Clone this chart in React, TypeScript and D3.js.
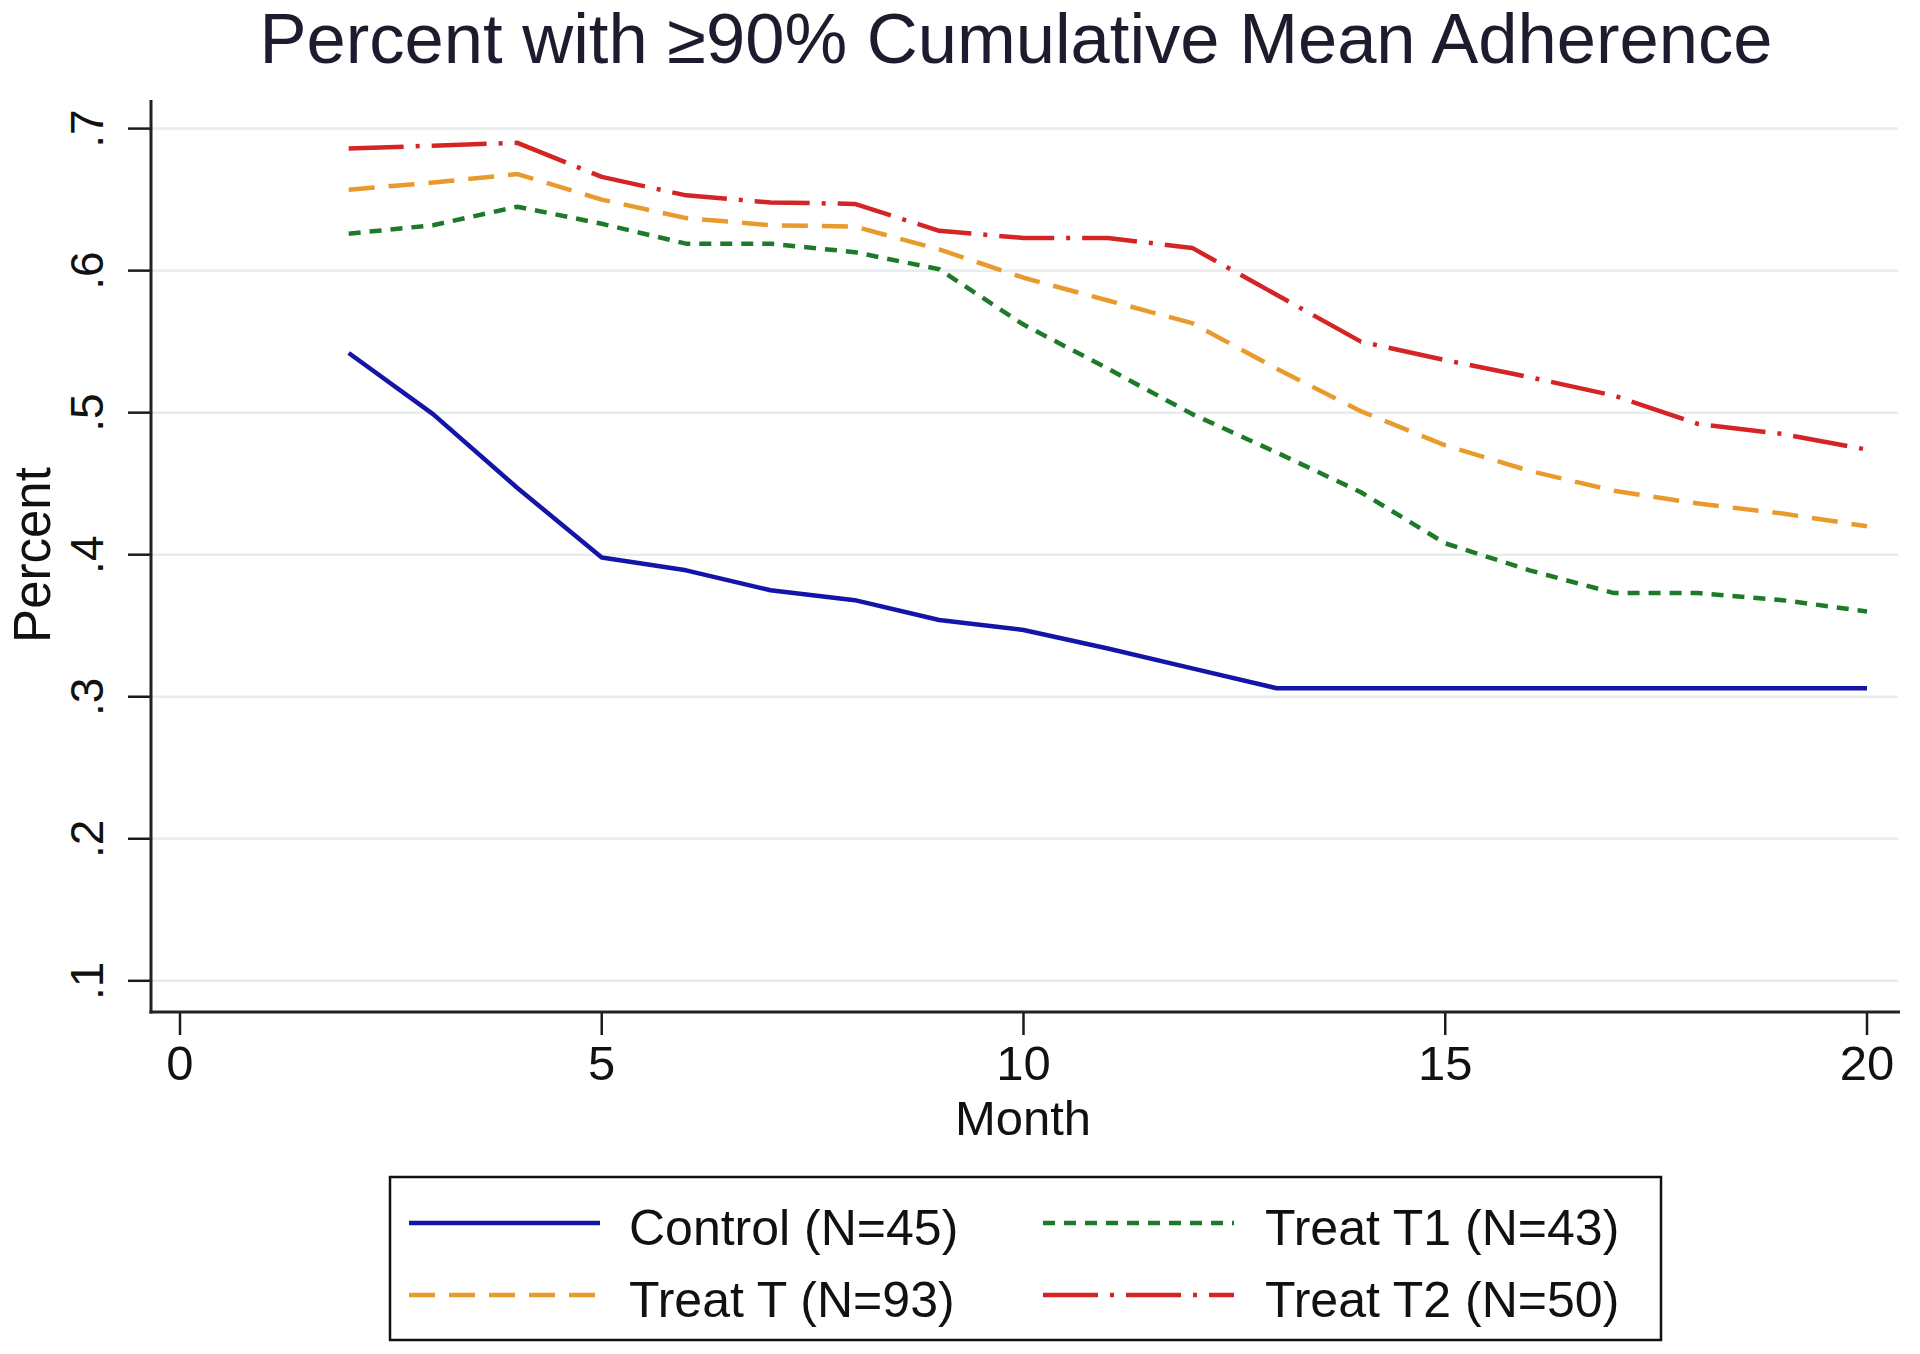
import React from "react";
import * as d3 from "d3";

const months = [2, 3, 4, 5, 6, 7, 8, 9, 10, 11, 12, 13, 14, 15, 16, 17, 18, 19, 20];
const control = [0.542, 0.499, 0.447, 0.398, 0.389, 0.375, 0.368, 0.354, 0.347, 0.334, 0.320, 0.306, 0.306, 0.306, 0.306, 0.306, 0.306, 0.306, 0.306];
const treatT = [0.657, 0.662, 0.668, 0.650, 0.637, 0.632, 0.631, 0.615, 0.595, 0.579, 0.563, 0.531, 0.501, 0.477, 0.459, 0.445, 0.436, 0.429, 0.420];
const treatT1 = [0.626, 0.632, 0.645, 0.633, 0.619, 0.619, 0.613, 0.601, 0.562, 0.531, 0.499, 0.472, 0.444, 0.408, 0.389, 0.373, 0.373, 0.368, 0.360];
const treatT2 = [0.686, 0.688, 0.690, 0.666, 0.653, 0.648, 0.647, 0.628, 0.623, 0.623, 0.616, 0.583, 0.550, 0.537, 0.525, 0.512, 0.492, 0.485, 0.474];

const xTicks = [0, 5, 10, 15, 20];
const xTickLabels = ["0", "5", "10", "15", "20"];
const yTicks = [0.1, 0.2, 0.3, 0.4, 0.5, 0.6, 0.7];
const yTickLabels = [".1", ".2", ".3", ".4", ".5", ".6", ".7"];

const seriesNames = ["Control (N=45)", "Treat T (N=93)", "Treat T1 (N=43)", "Treat T2 (N=50)"];
const seriesValues = [control, treatT, treatT1, treatT2];
const seriesColors = ["#1414a8", "#e89a2c", "#1c7a28", "#d42424"];
const seriesDash = ["none", "26,14", "12,9", "55,12,4,12"];

const title = "Percent with \u226590% Cumulative Mean Adherence";
const xTitle = "Month";
const yTitle = "Percent";

export default function App() {
  const W = 1920, H = 1354;
  const x = d3.scaleLinear().domain([0, 20]).range([180, 1867]);
  const y = d3.scaleLinear().domain([0.1, 0.7]).range([980.8, 128.6]);
  const axisX = 151, axisY = 1012, axisRight = 1900, axisTop = 100;
  const font = "'Liberation Sans', Arial, Helvetica, sans-serif";
  const line = d3.line<[number, number]>().x(d => x(d[0])).y(d => y(d[1]));

  const legRows = [1223, 1295];
  const legCols = [{ x0: 409, x1: 600, tx: 629 }, { x0: 1043, x1: 1234, tx: 1265 }];
  const legOrder = [0, 2, 1, 3];

  return (
    <svg width={W} height={H} style={{ position: "absolute", left: 0, top: 0, background: "#fff" }} fontFamily={font}>
      <rect x={0} y={0} width={W} height={H} fill="#ffffff" />
      <text x={1016} y={63} fontSize={70} textAnchor="middle" fill="#1c1c2e" textLength={1513} lengthAdjust="spacingAndGlyphs">{title}</text>

      {yTicks.map((t, i) => (
        <g key={"g" + i}>
          <line x1={axisX} x2={1898} y1={y(t)} y2={y(t)} stroke="#e7ecee" strokeWidth={2.5} />
          <line x1={128} x2={axisX} y1={y(t)} y2={y(t)} stroke="#1a1a1a" strokeWidth={2.5} />
          <text transform={`translate(103,${y(t)}) rotate(-90)`} fontSize={46} textAnchor="middle" fill="#111">{yTickLabels[i]}</text>
        </g>
      ))}

      {xTicks.map((t, i) => (
        <g key={"x" + i}>
          <line x1={x(t)} x2={x(t)} y1={axisY} y2={1035} stroke="#1a1a1a" strokeWidth={2.5} />
          <text x={x(t)} y={1080} fontSize={49} textAnchor="middle" fill="#111">{xTickLabels[i]}</text>
        </g>
      ))}

      <line x1={axisX} x2={axisX} y1={axisTop} y2={axisY + 1.5} stroke="#222" strokeWidth={3} />
      <line x1={axisX - 1.5} x2={axisRight} y1={axisY} y2={axisY} stroke="#222" strokeWidth={3} />

      <text x={1023} y={1135} fontSize={49} textAnchor="middle" fill="#111">{xTitle}</text>
      <text transform={`translate(50,555) rotate(-90)`} fontSize={51} textAnchor="middle" fill="#111">{yTitle}</text>

      {seriesValues.map((vals, si) => (
        <path key={"s" + si}
          d={line(months.map((m, i) => [m, vals[i]]) as [number, number][]) || ""}
          fill="none" stroke={seriesColors[si]} strokeWidth={4.5}
          strokeDasharray={seriesDash[si]} strokeLinejoin="round" />
      ))}

      <rect x={390} y={1177} width={1271} height={163} fill="#fff" stroke="#111" strokeWidth={2.5} />
      {legOrder.map((si, k) => {
        const r = Math.floor(k / 2), c = k % 2;
        const col = legCols[c];
        const yy = legRows[r];
        return (
          <g key={"l" + k}>
            <line x1={col.x0} x2={col.x1} y1={yy} y2={yy} stroke={seriesColors[si]} strokeWidth={4.5} strokeDasharray={seriesDash[si]} />
            <text x={col.tx} y={yy + 22} fontSize={50} fill="#111">{seriesNames[si]}</text>
          </g>
        );
      })}
    </svg>
  );
}
